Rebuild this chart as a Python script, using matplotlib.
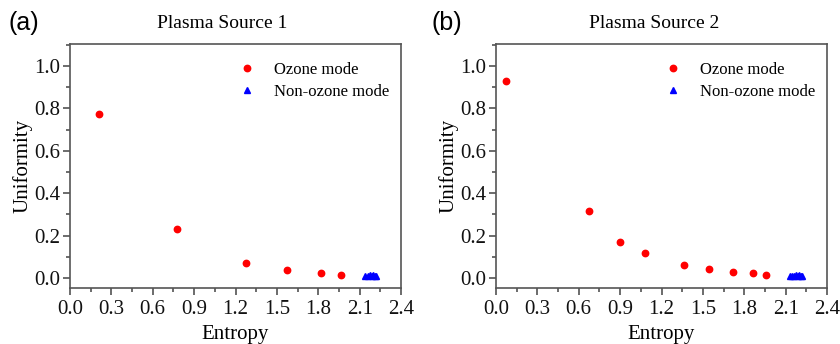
import matplotlib
matplotlib.use("Agg")
import matplotlib.pyplot as plt
from matplotlib.ticker import MultipleLocator

# Data
ozone1_x = [0.21, 0.776, 1.276, 1.576, 1.822, 1.965]
ozone1_y = [0.774, 0.231, 0.071, 0.038, 0.022, 0.014]
non1_x = [2.14, 2.16, 2.175, 2.19, 2.20, 2.21, 2.22]
non1_y = [0.010, 0.011, 0.012, 0.011, 0.012, 0.011, 0.010]

ozone2_x = [0.070, 0.673, 0.900, 1.079, 1.360, 1.544, 1.720, 1.863, 1.955]
ozone2_y = [0.929, 0.317, 0.171, 0.118, 0.060, 0.041, 0.030, 0.022, 0.016]
non2_x = [2.13, 2.145, 2.16, 2.175, 2.19, 2.20, 2.21, 2.22]
non2_y = [0.010, 0.011, 0.011, 0.012, 0.011, 0.012, 0.011, 0.010]

titles = ["Plasma Source 1", "Plasma Source 2"]
panel_labels = ["(a)", "(b)"]
x_ticks = [0.0, 0.3, 0.6, 0.9, 1.2, 1.5, 1.8, 2.1, 2.4]
y_ticks = [0.0, 0.2, 0.4, 0.6, 0.8, 1.0]

W, H = 840, 344
fig = plt.figure(figsize=(W / 100, H / 100), dpi=100)
plt.rcParams['font.family'] = ['Liberation Serif']

serif = 'Liberation Serif'
sans = 'Liberation Sans'

axes_px = [(70, 44, 331, 244), (496, 44, 331, 244)]
datasets = [(ozone1_x, ozone1_y, non1_x, non1_y), (ozone2_x, ozone2_y, non2_x, non2_y)]
title_x_px = [222, 654]
panel_x_px = [8, 432]

for i, ((l, t, w, h), (ox, oy, nx, ny)) in enumerate(zip(axes_px, datasets)):
    ax = fig.add_axes([l / W, (H - t - h) / H, w / W, h / H])
    ax.plot(ox, oy, 'o', color='#ff0000', markersize=4.6, linestyle='none', label='Ozone mode')
    ax.plot(nx, ny, '^', color='#0000ff', markersize=4.6, linestyle='none', label='Non-ozone mode')
    ax.set_xlim(0, 2.4)
    ax.set_ylim(-0.047, 1.104)
    ax.set_xticks(x_ticks)
    ax.set_yticks(y_ticks)
    ax.set_xticklabels([f"{v:.1f}" for v in x_ticks])
    ax.set_yticklabels([f"{v:.1f}" for v in y_ticks])
    ax.xaxis.set_minor_locator(MultipleLocator(0.15))
    ax.yaxis.set_minor_locator(MultipleLocator(0.1))
    ax.tick_params(axis='both', which='major', direction='out', length=5, width=1.1,
                   labelsize=15, colors='#444444')
    ax.tick_params(axis='x', which='major', pad=4)
    ax.tick_params(axis='y', which='major', pad=2)
    ax.tick_params(axis='both', which='minor', direction='out', length=3, width=1.1, colors='#444444')
    ax.tick_params(top=False, right=False, which='both')
    for lab in ax.get_xticklabels() + ax.get_yticklabels():
        lab.set_fontfamily(serif)
        lab.set_color('#111111')
    for sp in ax.spines.values():
        sp.set_color('#555555')
        sp.set_linewidth(1.2)
    ax.set_xlabel('Entropy', fontsize=15, fontfamily=serif, labelpad=4)
    ax.set_ylabel('Uniformity', fontsize=15, fontfamily=serif, labelpad=1)
    ax.legend(loc='upper right', bbox_to_anchor=(1.0, 0.975), frameon=False,
              prop={'family': serif, 'size': 12}, handletextpad=1.1,
              labelspacing=0.38, handlelength=1.0, borderaxespad=0.3)
    fig.text(title_x_px[i] / W, 1 - 23 / H, titles[i], fontsize=14, fontfamily=serif,
             ha='center', va='center')
    fig.text(panel_x_px[i] / W, 1 - 23 / H, panel_labels[i], fontsize=18, fontfamily=sans,
             ha='left', va='center')

fig.savefig('out.png', dpi=100)
